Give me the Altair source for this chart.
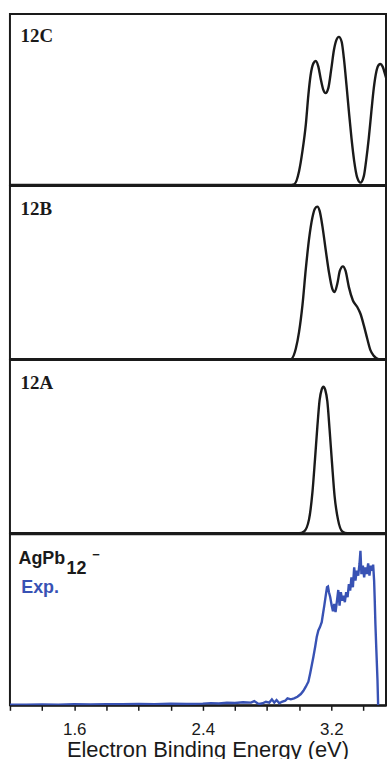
import altair as alt
import pandas as pd

X_MIN, X_MAX = 1.2, 3.54
TICKS = [1.2, 1.4, 1.6, 1.8, 2.0, 2.2, 2.4, 2.6, 2.8, 3.0, 3.2, 3.4]
LABELED = ["1.6", "2.4", "3.2"]

# 12C simulated spectrum
c_e = [1.2, 2.937, 2.968, 2.999, 3.020, 3.041, 3.057, 3.071, 3.088, 3.103, 3.119, 3.133,
       3.150, 3.164, 3.181, 3.200, 3.216, 3.231, 3.247, 3.264, 3.278, 3.294, 3.309, 3.325,
       3.342, 3.361, 3.381, 3.402, 3.416, 3.433, 3.449, 3.464, 3.480, 3.495, 3.505, 3.519,
       3.538, 3.56]
c_i = [0, 0, 0.004, 0.081, 0.198, 0.353, 0.527, 0.643, 0.711, 0.725, 0.692, 0.624,
       0.556, 0.537, 0.566, 0.682, 0.789, 0.847, 0.866, 0.837, 0.740, 0.585, 0.430, 0.275,
       0.140, 0.043, 0.014, 0.052, 0.140, 0.275, 0.430, 0.566, 0.663, 0.702, 0.707, 0.692,
       0.634, 0.56]

# 12B simulated spectrum
b_e = [1.2, 2.948, 2.979, 2.999, 3.020, 3.041, 3.061, 3.082, 3.098, 3.113, 3.127, 3.144,
       3.164, 3.185, 3.206, 3.220, 3.237, 3.253, 3.272, 3.288, 3.309, 3.334, 3.361, 3.381,
       3.402, 3.423, 3.443, 3.464, 3.495, 3.54]
b_i = [0, 0, 0.061, 0.157, 0.310, 0.521, 0.693, 0.818, 0.870, 0.881, 0.856, 0.770,
       0.636, 0.502, 0.406, 0.387, 0.435, 0.511, 0.536, 0.511, 0.416, 0.339, 0.301, 0.262,
       0.195, 0.119, 0.052, 0.019, 0, 0]

# 12A simulated spectrum
a_e = [1.2, 2.999, 3.030, 3.061, 3.082, 3.098, 3.113, 3.127, 3.140, 3.150, 3.162, 3.175,
       3.189, 3.204, 3.220, 3.241, 3.268, 3.299, 3.54]
a_i = [0, 0, 0.010, 0.080, 0.234, 0.425, 0.617, 0.770, 0.831, 0.847, 0.828, 0.761,
       0.598, 0.406, 0.215, 0.080, 0.010, 0, 0]

# experimental spectrum of AgPb12-
x_e = [1.20, 1.30, 1.40, 1.50, 1.60, 1.70, 1.80, 1.90, 2.00, 2.10, 2.20, 2.30, 2.40,
       2.45, 2.50, 2.55, 2.60, 2.65, 2.70, 2.72, 2.74,
       2.752, 2.772, 2.793, 2.814, 2.830, 2.845, 2.859, 2.876, 2.892, 2.913, 2.927, 2.948,
       2.968, 2.989, 3.010, 3.026, 3.041, 3.057, 3.068, 3.078, 3.088, 3.099, 3.109, 3.119,
       3.129, 3.140, 3.148, 3.156, 3.165, 3.173, 3.179, 3.185, 3.193, 3.202, 3.210, 3.218,
       3.226, 3.235, 3.243, 3.251, 3.259, 3.268, 3.276, 3.284, 3.292, 3.301, 3.309, 3.317,
       3.325, 3.334, 3.342, 3.350, 3.358, 3.367, 3.375, 3.381, 3.387, 3.396, 3.404, 3.412,
       3.420, 3.429, 3.437, 3.445, 3.453, 3.460, 3.466, 3.470, 3.474, 3.480, 3.487, 3.491]
x_i = [0.004, 0.004, 0.005, 0.004, 0.006, 0.005, 0.007, 0.006, 0.008, 0.007, 0.009, 0.008, 0.010,
       0.013, 0.011, 0.015, 0.014, 0.018, 0.016, 0.025, 0.012,
       0.008, 0.012, 0.021, 0.016, 0.035, 0.016, 0.031, 0.012, 0.021, 0.027, 0.041, 0.035,
       0.041, 0.050, 0.066, 0.085, 0.109, 0.138, 0.186, 0.234, 0.283, 0.341, 0.399, 0.438,
       0.457, 0.486, 0.535, 0.583, 0.641, 0.690, 0.694, 0.661, 0.632, 0.583, 0.550, 0.593,
       0.545, 0.612, 0.674, 0.583, 0.661, 0.612, 0.641, 0.603, 0.661, 0.632, 0.709, 0.671,
       0.748, 0.690, 0.806, 0.729, 0.787, 0.758, 0.826, 0.903, 0.767, 0.816, 0.748, 0.806,
       0.767, 0.829, 0.758, 0.816, 0.787, 0.822, 0.729, 0.612, 0.477, 0.322, 0.147, 0.0]

SERIF = "Liberation Serif"
SANS = "Liberation Sans"
INK = "#1a1a1a"
BLUE = "#3852b4"


def enc(axis):
    x = alt.X("e:Q", scale=alt.Scale(domain=[X_MIN, X_MAX], nice=False, zero=False), axis=axis)
    y = alt.Y("i:Q", scale=alt.Scale(domain=[0, 1], nice=False), axis=None)
    return x, y


def panel(e, i, color, h, labels, axis=None, interp="monotone", width=2.4):
    x, y = enc(axis)
    df = pd.DataFrame({"e": e, "i": i})
    layers = [alt.Chart(df).mark_line(color=color, strokeWidth=width, clip=True,
                                      interpolate=interp).encode(x=x, y=y)]
    for (t, le, li, font, size, col) in labels:
        tdf = pd.DataFrame({"e": [le], "i": [li], "t": [t]})
        layers.append(
            alt.Chart(tdf).mark_text(align="left", baseline="alphabetic", font=font,
                                     fontSize=size, fontWeight="bold", color=col)
            .encode(x=x, y=y, text="t:N")
        )
    return alt.layer(*layers).properties(width=378, height=h)


bottom_axis = alt.Axis(
    values=TICKS,
    labelExpr="indexof(" + str(LABELED) + ", format(datum.value, '.1f')) >= 0 ? format(datum.value, '.1f') : ''",
    title="Electron Binding Energy (eV)",
    titleFont=SANS, titleFontSize=22, titleFontWeight="normal", titleColor=INK,
    titleX=198.5, titleAlign="center", titleBaseline="alphabetic", titleY=51.5,
    labelFont=SANS, labelFontSize=17, labelColor=INK, labelBaseline="alphabetic",
    labelPadding=24, labelFlush=False, labelOverlap=False,
    domainColor=INK, domainWidth=2, tickColor=INK, tickWidth=1.5, tickSize=5,
    grid=False,
)

p1 = panel(c_e, c_i, INK, 172, [("12C", 1.266, 0.837, SERIF, 19, INK)])
p2 = panel(b_e, b_i, INK, 174, [("12B", 1.266, 0.832, SERIF, 19, INK)])
p3 = panel(a_e, a_i, INK, 174, [("12A", 1.266, 0.832, SERIF, 19, INK)])
p4 = panel(x_e, x_i, BLUE, 172, [
    ("AgPb", 1.253, 0.826, SANS, 18, INK),
    ("12", 1.552, 0.767, SANS, 18, INK),
    ("\u2212", 1.712, 0.855, SANS, 13, INK),
    ("Exp.", 1.270, 0.657, SANS, 18, BLUE),
], axis=bottom_axis, interp="linear", width=2.4)

chart = alt.vconcat(p1, p2, p3, p4, spacing=-2).properties(
    padding={"left": 8, "top": 11, "right": 0, "bottom": 0},
    background="white",
).configure_view(stroke=INK, strokeWidth=2)

chart.save("out.html", embed_options={"renderer": "svg", "actions": False})
